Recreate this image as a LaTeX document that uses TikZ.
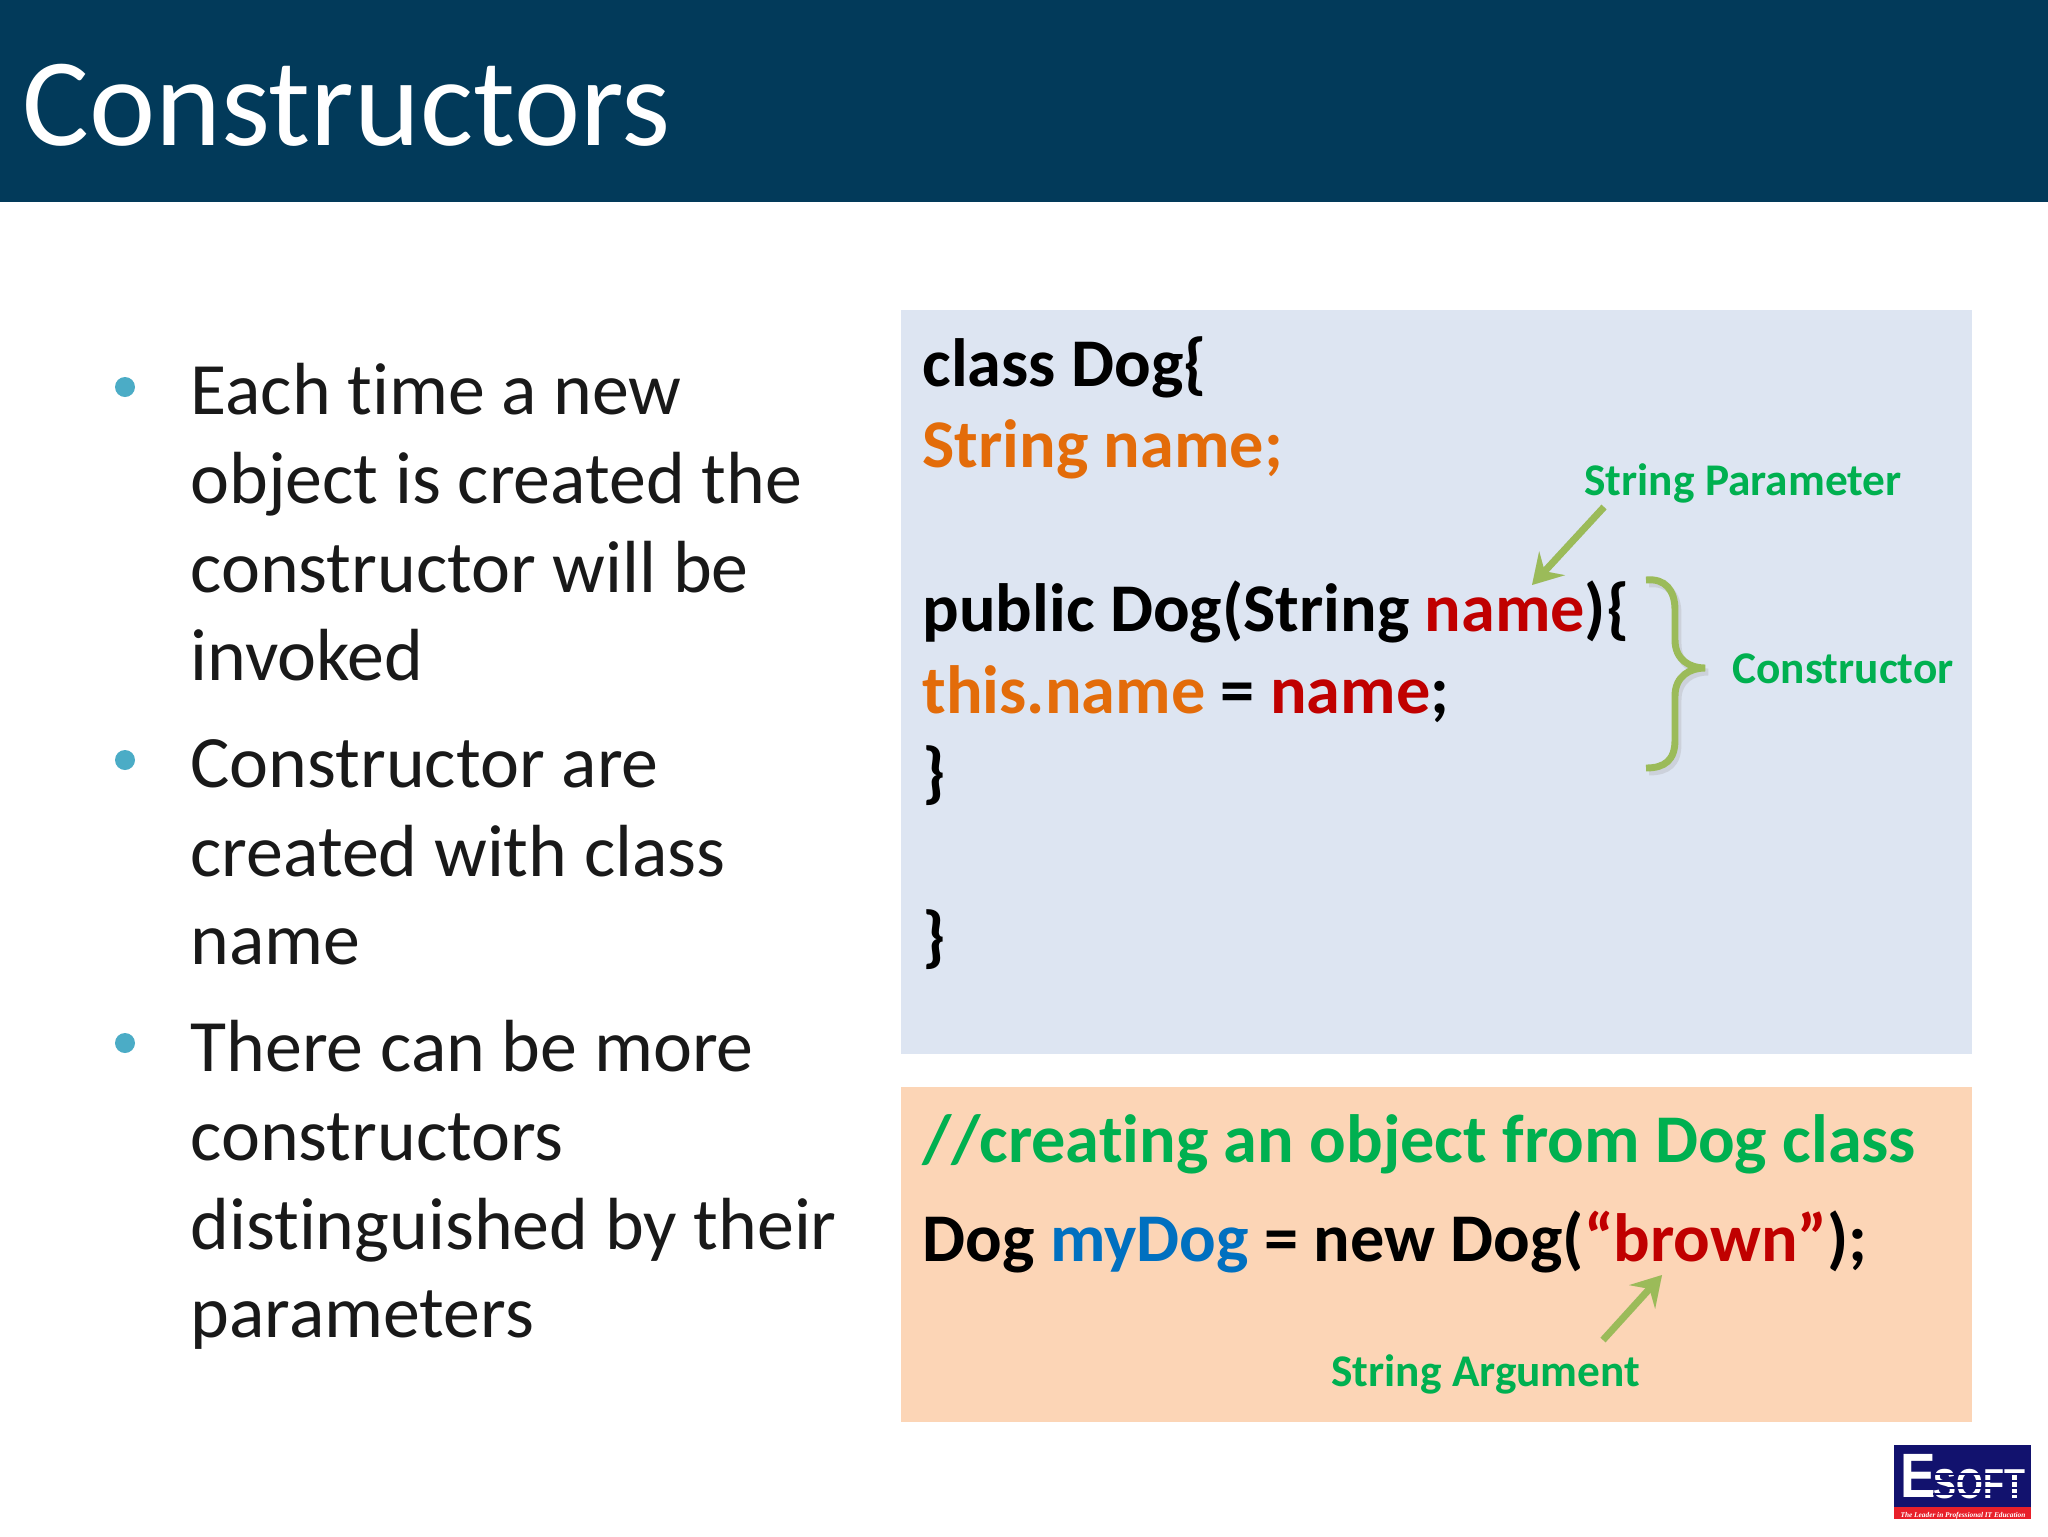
\documentclass[tikz,border=0pt]{standalone}
\usepackage{fontspec}
\usepackage{graphicx}
\usetikzlibrary{arrows.meta}
\setmainfont[Ligatures=NoCommon]{Carlito}
\newfontfamily\logofont{Liberation Sans}
\newfontfamily\tagfont{Liberation Serif}
\definecolor{headblue}{HTML}{023A5A}
\definecolor{codeblue}{HTML}{DDE5F2}
\definecolor{codepeach}{HTML}{FCD5B6}
\definecolor{dotteal}{HTML}{4BACC6}
\definecolor{notegreen}{HTML}{00B050}
\definecolor{markgreen}{HTML}{9BBB59}
\definecolor{fieldorange}{HTML}{E36C0A}
\definecolor{namered}{HTML}{C00000}
\definecolor{varblue}{HTML}{0070C0}
\definecolor{logonavy}{HTML}{12126E}
\definecolor{logored}{HTML}{E8202A}
\tikzset{
	titletxt/.style={anchor=base west, inner sep=0pt, text=white, font=\fontsize{47}{56}\selectfont},
	bodytxt/.style={anchor=base west, inner sep=0pt, text=black!90, font=\fontsize{27.7}{33}\selectfont},
	codetxt/.style={anchor=base west, inner sep=0pt, text=black, font=\fontsize{25.6}{30}\selectfont\bfseries},
	notetxt/.style={anchor=base west, inner sep=0pt, text=notegreen, font=\fontsize{17}{20}\selectfont\bfseries},
	dotmark/.style={fill=dotteal, draw=none},
	markline/.style={draw=markgreen, line width=2.6pt},
	markshade/.style={draw=black!35, opacity=0.3, line width=2.6pt, shift={(3,4)}},
	marktip/.style={-{Stealth[length=11pt, width=13pt, inset=4pt]}},
}
\begin{document}
\begin{tikzpicture}[x=0.375pt, y=-0.375pt]
	\useasboundingbox (0,0) rectangle (2048,1536);
	\fill[white] (0,0) rectangle (2048,1536);
	% header
	\fill[headblue] (0,0) rectangle (2048,202);
	\node[titletxt] (title) at (22,145) {Constructors};
	% left column
	\fill[dotmark] (125,387) circle (10);
	\fill[dotmark] (125,760) circle (10);
	\fill[dotmark] (125,1043) circle (10);
	\node[bodytxt] (lineA) at (190,414) {Each time a new};
	\node[bodytxt] (lineB) at (190,503) {object is created the};
	\node[bodytxt] (lineC) at (190,592) {constructor will be};
	\node[bodytxt] (lineD) at (190,680) {invoked};
	\node[bodytxt] (lineE) at (190,787) {Constructor are};
	\node[bodytxt] (lineF) at (190,876) {created with class};
	\node[bodytxt] (lineG) at (190,964) {name};
	\node[bodytxt] (lineH) at (190,1071) {There can be more};
	\node[bodytxt] (lineI) at (190,1160) {constructors};
	\node[bodytxt] (lineJ) at (190,1249) {distinguished by their};
	\node[bodytxt] (lineK) at (190,1337) {parameters};
	% code boxes
	\fill[codeblue] (901,310) rectangle (1972,1054);
	\fill[codepeach] (901,1087) rectangle (1972,1422);
	\node[codetxt] (codeA) at (922,386) {class Dog\{};
	\node[codetxt] (codeB) at (922,467) {\color{fieldorange}String name;};
	\node[codetxt] (codeC) at (922,631) {public Dog(String \textcolor{namered}{name})\{};
	\node[codetxt] (codeD) at (922,713) {\textcolor{fieldorange}{this.name} = \textcolor{namered}{name};};
	\node[codetxt] (codeE) at (922,795) {\}};
	\node[codetxt] (codeF) at (922,959) {\}};
	\node[codetxt, text=notegreen] (codeG) at (922,1162) {//creating an object from Dog class};
	\node[codetxt] (codeH) at (922,1261) {Dog \textcolor{varblue}{myDog} = new Dog(\textcolor{namered}{“brown”});};
	% notes
	\node[notetxt] (noteparam) at (1584,495) {String Parameter};
	\node[notetxt] (notector) at (1732,683) {Constructor};
	\node[notetxt] (notearg) at (1331,1386) {String Argument};
	\coordinate (paramstart) at (1604,507);
	\coordinate (paramtip) at (1532,585);
	\coordinate (argstart) at (1603,1340);
	\coordinate (argtip) at (1662,1275);
	\draw[markshade, marktip] (paramstart)--(paramtip);
	\draw[markline, marktip] (paramstart)--(paramtip);
	\draw[markshade, marktip] (argstart)--(argtip);
	\draw[markline, marktip] (argstart)--(argtip);
	% brace
	\draw[markshade] (1646,580) .. controls (1665,578) and (1675,590) .. (1675,610) -- (1675,640) .. controls (1675,660) and (1690,668) .. (1705,668) .. controls (1690,668) and (1675,676) .. (1675,696) -- (1675,740) .. controls (1675,760) and (1665,768) .. (1646,768);
	\draw[markline] (1646,580) .. controls (1665,578) and (1675,590) .. (1675,610) -- (1675,640) .. controls (1675,660) and (1690,668) .. (1705,668) .. controls (1690,668) and (1675,676) .. (1675,696) -- (1675,740) .. controls (1675,760) and (1665,768) .. (1646,768);
	% logo
	\fill[logonavy] (1894,1445) rectangle (2031,1507);
	\fill[logored] (1894,1507) rectangle (2031,1519);
	\node[anchor=base west, inner sep=0pt, text=white] (logoE) at (1900,1497) {\logofont\bfseries\fontsize{23.5}{24}\selectfont\scalebox{0.85}[1]{E}};
	\node[anchor=base west, inner sep=0pt, text=white] (logoS) at (1933,1498) {\logofont\bfseries\fontsize{15.7}{16}\selectfont\scalebox{0.82}[1]{SOFT}};
	\foreach \y in {1474,1481,1488,1494}
		\draw[logonavy, line width=0.4pt] (1933,\y)--(2028,\y);
	\node[anchor=base west, inner sep=0pt, text=white] (logotag) at (1900,1517) {\tagfont\bfseries\itshape\fontsize{2.75}{4}\selectfont The Leader in Professional IT Education};
\end{tikzpicture}
\end{document}
